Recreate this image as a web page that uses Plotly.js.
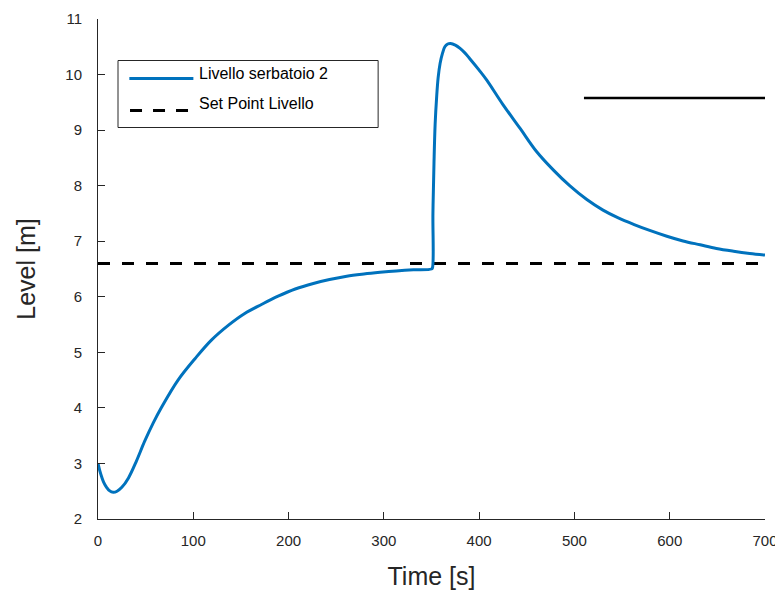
<!DOCTYPE html>
<html>
<head>
<meta charset="utf-8">
<script src="https://cdn.plot.ly/plotly-3.0.1.min.js"></script>
<style>html,body{margin:0;padding:0;background:#fff;}#chart{width:775px;height:595px;}</style>
</head>
<body>
<div id="chart"></div>
<script>
// ---- data ----
const timeS = [0, 2, 4, 6, 9, 12, 16, 20, 25, 32, 40, 49, 58, 67, 84, 102, 119, 137, 154, 172, 189, 207, 226, 243, 261, 279, 296, 313, 331, 350,
  351, 351.5, 352.6, 353.8, 355.4, 357, 359, 361.5, 364, 367, 370, 375, 380, 385, 390, 400, 408, 425, 443, 460, 478, 495, 513,
  530, 546, 562, 579, 597, 614, 632, 649, 667, 684, 700];
const levelM = [3.0, 2.86, 2.75, 2.66, 2.57, 2.51, 2.48, 2.50, 2.57, 2.74, 3.03, 3.40, 3.73, 4.02, 4.5, 4.89, 5.22, 5.49, 5.70, 5.865, 6.01, 6.14, 6.24, 6.31, 6.37, 6.41, 6.44, 6.465, 6.485, 6.50,
  6.52, 7.5, 8.4, 9.1, 9.6, 9.95, 10.2, 10.38, 10.5, 10.55, 10.56, 10.53, 10.47, 10.39, 10.29, 10.08, 9.9, 9.46, 9.03, 8.62, 8.28, 8.00, 7.75,
  7.56, 7.42, 7.305, 7.195, 7.09, 7.005, 6.935, 6.87, 6.82, 6.78, 6.75];
const setPointT = [0, 700];
const setPointLevel = [6.6, 6.6];
const extraLineT = [510, 712];
const extraLineLevel = [9.58, 9.58];
const seriesNames = ["Livello serbatoio 2", "Set Point Livello"];
const xTicks = [0, 100, 200, 300, 400, 500, 600, 700];
const yTicks = [2, 3, 4, 5, 6, 7, 8, 9, 10, 11];
const xTitle = "Time [s]";
const yTitle = "Level [m]";

const FONT = "Liberation Sans, Arial, Helvetica, sans-serif";
const BLUE = "#0072BD";
const AX = "#262626";

const traces = [
  {x: setPointT, y: setPointLevel, mode: "lines", name: seriesNames[1],
   line: {color: "#000", width: 3, dash: "12px,12px"}, hoverinfo: "skip"},
  {x: timeS, y: levelM, mode: "lines", name: seriesNames[0],
   line: {color: BLUE, width: 3, shape: "spline", smoothing: 1}},
  {x: extraLineT, y: extraLineLevel, mode: "lines", showlegend: false,
   line: {color: "#000", width: 2.5}}
];

const axisCommon = {
  showgrid: false, zeroline: false, showline: true, linecolor: AX, linewidth: 1,
  ticks: "inside", ticklen: 7, tickwidth: 1, tickcolor: AX,
  tickfont: {family: FONT, size: 15, color: AX}, mirror: false,
  ticklabeloverflow: "allow"
};

// manual legend (box, samples, labels) in paper coordinates
const layout = {
  width: 775, height: 595,
  margin: {l: 98, r: 10, t: 19, b: 76},
  paper_bgcolor: "#fff", plot_bgcolor: "#fff",
  showlegend: false,
  font: {family: FONT, color: AX},
  xaxis: Object.assign({}, axisCommon, {
    range: [0, 700], tickvals: xTicks, ticklabelstandoff: 8,
    title: {text: xTitle, font: {family: FONT, size: 25, color: AX}, standoff: 19}
  }),
  yaxis: Object.assign({}, axisCommon, {
    range: [2, 11], tickvals: yTicks, ticklabelstandoff: 12,
    title: {text: yTitle, font: {family: FONT, size: 25, color: AX}, standoff: 22}
  }),
  shapes: [
    {type: "rect", xref: "paper", yref: "paper", x0: 0.030, x1: 0.420, y0: 0.783, y1: 0.917,
     line: {color: AX, width: 1}, fillcolor: "#fff", layer: "above"},
    {type: "line", xref: "paper", yref: "paper", x0: 0.047, x1: 0.143, y0: 0.881, y1: 0.881,
     line: {color: BLUE, width: 3}, layer: "above"},
    {type: "line", xref: "paper", yref: "paper", x0: 0.048, x1: 0.141, y0: 0.817, y1: 0.817,
     line: {color: "#000", width: 3, dash: "12px,11px"}, layer: "above"}
  ],
  annotations: [
    {xref: "paper", yref: "paper", x: 0.149, y: 0.891, xanchor: "left", yanchor: "middle",
     text: seriesNames[0], showarrow: false, font: {family: FONT, size: 16, color: "#000"}},
    {xref: "paper", yref: "paper", x: 0.149, y: 0.831, xanchor: "left", yanchor: "middle",
     text: seriesNames[1], showarrow: false, font: {family: FONT, size: 16, color: "#000"}}
  ]
};

Plotly.newPlot("chart", traces, layout, {staticPlot: true, displayModeBar: false});
</script>
</body>
</html>
